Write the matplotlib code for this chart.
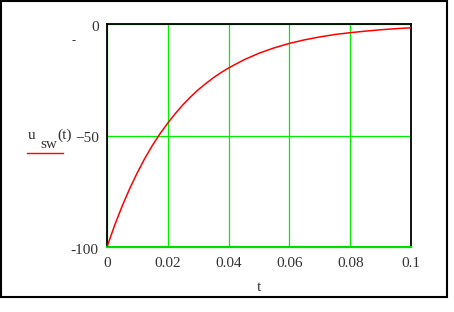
import matplotlib
matplotlib.use('Agg')
import matplotlib.pyplot as plt
from matplotlib.patches import Rectangle
from matplotlib.transforms import ScaledTranslation

t = [0.0, 0.0025, 0.005, 0.0075, 0.01, 0.0125, 0.015, 0.0175, 0.02, 0.0225,
     0.025, 0.0275, 0.03, 0.0325, 0.035, 0.0375, 0.04, 0.045, 0.05, 0.055,
     0.06, 0.065, 0.07, 0.075, 0.08, 0.085, 0.09, 0.095, 0.1]
u_sw = [-100, -90.3, -81.6, -73.7, -66.6, -60.1, -54.3, -49.1, -44.4, -40.1,
        -36.2, -32.7, -29.5, -26.7, -24.1, -21.8, -19.7, -16.1, -13.1, -10.7,
        -8.7, -7.1, -5.8, -4.7, -3.9, -3.2, -2.6, -2.1, -1.7]
x_ticks = [0, 0.02, 0.04, 0.06, 0.08, 0.1]
x_labels = ['0', '0.02', '0.04', '0.06', '0.08', '0.1']
y_ticks = [-100, -50, 0]
y_labels = ['-100', '\u221250', '0']

plt.rcParams['font.family'] = ['Liberation Serif', 'DejaVu Serif']
txt_col = '#333333'

fig = plt.figure(figsize=(4.54, 3.12), dpi=100)
ax = fig.add_axes([107/454, 1 - 247/312, 304/454, 223/312])

ax.plot(t, u_sw, color='red', lw=1.1, zorder=3)

ax.set_xlim(0, 0.1)
ax.set_ylim(-100, 0)
ax.set_xticks(x_ticks)
ax.set_xticklabels(x_labels)
ax.set_yticks(y_ticks)
ax.set_yticklabels(y_labels)
ax.tick_params(length=0, labelsize=11, labelcolor=txt_col)
ax.tick_params(axis='x', pad=7)
ax.tick_params(axis='y', pad=6)
# labels sit a little below their grid line
shift = ScaledTranslation(0, -2/100, fig.dpi_scale_trans)
for lab in ax.get_yticklabels():
    lab.set_transform(lab.get_transform() + shift)
ax.grid(True, color='#00ee00', lw=0.9)

for s in ax.spines.values():
    s.set_linewidth(1.3)
    s.set_color('black')
ax.spines['bottom'].set_color('#00dd00')
ax.spines['bottom'].set_linewidth(1.6)

ax.set_xlabel('t', fontsize=11, color=txt_col, labelpad=8)

# y label written like the original, not rotated
fig.text(28/454, 1 - 139/312, 'u', fontsize=11, color=txt_col, va='baseline')
fig.text(40/454, 1 - 148/312, 'sw', fontsize=11, color=txt_col, va='baseline')
fig.text(57/454, 1 - 139/312, '(t)', fontsize=11, color=txt_col, va='baseline')
fig.add_artist(plt.Line2D([27/454, 63/454], [1 - 153/312, 1 - 153/312], color='red', lw=1))
fig.text(74/454, 1 - 41/312, '-', fontsize=9, color=txt_col, ha='center', va='center')

# outer frame
fig.add_artist(Rectangle((1/454, 1 - 297/312), 446/454, 296/312, fill=False,
                         edgecolor='black', lw=1.5, transform=fig.transFigure))

fig.savefig('out.png', dpi=100)
